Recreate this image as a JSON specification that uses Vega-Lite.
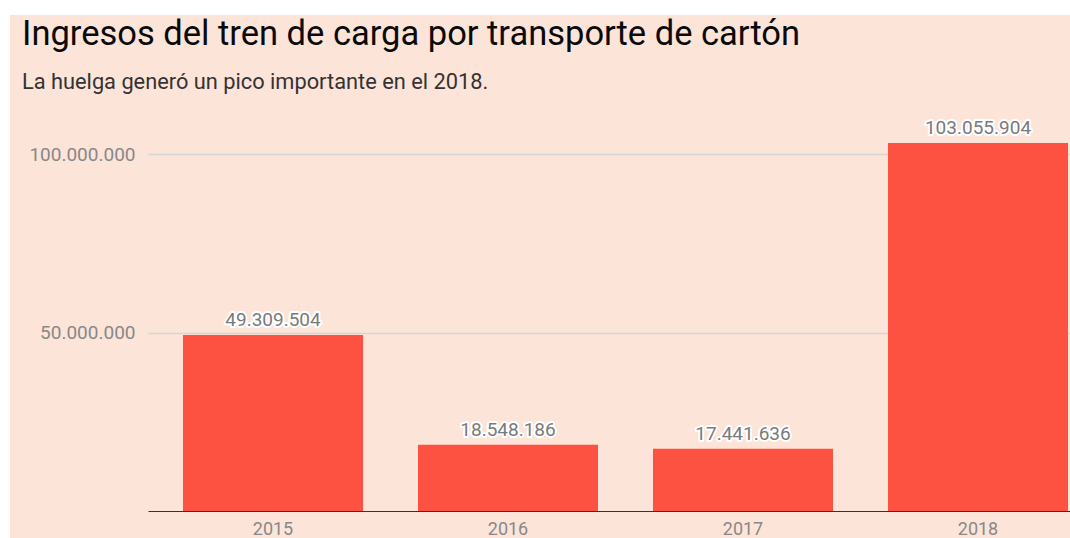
{
  "$schema": "https://vega.github.io/schema/vega-lite/v6.json",
  "autosize": "none",
  "width": 1060,
  "height": 523,
  "padding": {"left": 10, "top": 15, "right": 0, "bottom": 0},
  "background": "#ffffff",
  "config": {
    "font": "Roboto",
    "view": {"fill": "#fce4d9", "stroke": null}
  },
  "title": {
    "text": "Ingresos del tren de carga por transporte de cartón",
    "subtitle": "La huelga generó un pico importante en el 2018.",
    "anchor": "start",
    "frame": "group",
    "orient": "top",
    "offset": -80,
    "dx": 12,
    "font": "Roboto",
    "fontSize": 34.5,
    "fontWeight": "normal",
    "color": "#0a0a0a",
    "subtitleFont": "Roboto",
    "subtitleFontSize": 21.8,
    "subtitleColor": "#333333",
    "subtitlePadding": 20
  },
  "data": {
    "values": [
      {"anio": "2015", "ingresos": 49309504},
      {"anio": "2016", "ingresos": 18548186},
      {"anio": "2017", "ingresos": 17441636},
      {"anio": "2018", "ingresos": 103055904}
    ]
  },
  "transform": [
    {"calculate": "replace(format(datum.ingresos, ','), regexp(',', 'g'), '.')", "as": "etiqueta"}
  ],
  "encoding": {
    "x": {
      "field": "anio",
      "type": "nominal",
      "sort": null,
      "scale": {"range": [138, 1060], "paddingInner": 0.234, "paddingOuter": 0.0787, "align": 0.946},
      "axis": {
        "title": null,
        "orient": "bottom",
        "offset": -27,
        "domain": true,
        "domainColor": "#333333",
        "domainWidth": 1,
        "ticks": false,
        "grid": false,
        "labelAngle": 0,
        "labelFont": "Roboto",
        "labelFontSize": 18,
        "labelColor": "#888888",
        "labelPadding": 9
      }
    },
    "y": {
      "field": "ingresos",
      "type": "quantitative",
      "scale": {"domain": [0, 100000000], "range": [496, 139], "nice": false, "zero": false},
      "axis": {
        "title": null,
        "orient": "left",
        "offset": -138,
        "values": [50000000, 100000000],
        "domain": false,
        "ticks": false,
        "grid": true,
        "gridColor": "#d5d5d5",
        "gridWidth": 1.5,
        "labelFont": "Roboto",
        "labelFontSize": 19,
        "labelColor": "#888888",
        "labelPadding": 13,
        "labelExpr": "replace(format(datum.value, ','), regexp(',', 'g'), '.')"
      }
    }
  },
  "layer": [
    {"mark": {"type": "bar", "color": "#fd5241"}},
    {
      "mark": {"type": "text", "baseline": "alphabetic", "dy": -9, "fontSize": 19, "font": "Roboto", "stroke": "#ffffff", "strokeWidth": 4, "strokeJoin": "round", "fill": "#ffffff"},
      "encoding": {"text": {"field": "etiqueta"}}
    },
    {
      "mark": {"type": "text", "baseline": "alphabetic", "dy": -9, "fontSize": 19, "font": "Roboto", "fill": "#7a7a7a"},
      "encoding": {"text": {"field": "etiqueta"}}
    }
  ]
}
